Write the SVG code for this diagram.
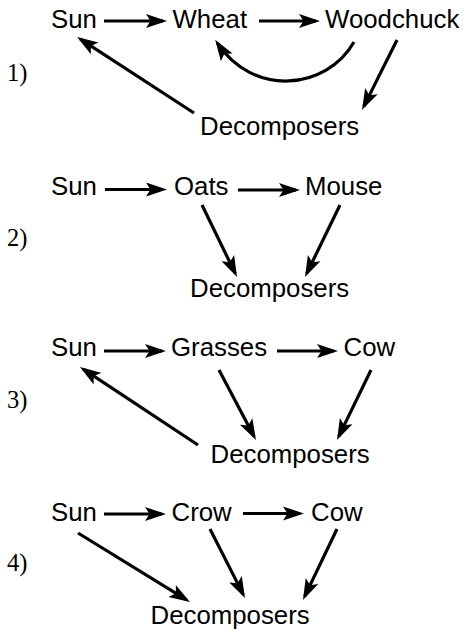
<svg xmlns="http://www.w3.org/2000/svg" width="467" height="632" viewBox="0 0 467 632">
<style>
.lbl{font-family:"Liberation Sans",Arial,Helvetica,sans-serif;font-size:25.8px;fill:#000}
.num{font-family:"Liberation Serif","Times New Roman",serif;font-size:24.5px;fill:#000}
.c{fill:none;stroke:#000;stroke-width:3.2}
</style>
<defs>
<marker id="ah" markerUnits="userSpaceOnUse" markerWidth="24" markerHeight="16" refX="17" refY="8" orient="auto">
<path d="M0,1 L21,8 L0,15 L4.5,8 z" fill="#000"/>
</marker>
</defs>
<rect width="467" height="632" fill="#fff"/>
<g id="panel1">
<text class="num" x="7" y="81">1)</text>
<g id="p1-sun"><text class="lbl" x="51" y="27.5">Sun</text></g>
<g id="p1-wheat"><text class="lbl" x="172.5" y="27.5">Wheat</text></g>
<g id="p1-woodchuck"><text class="lbl" x="325" y="27.5">Woodchuck</text></g>
<g id="p1-decomposers"><text class="lbl" x="200" y="135">Decomposers</text></g>
</g>
<g id="panel2">
<text class="num" x="7" y="246">2)</text>
<g id="p2-sun"><text class="lbl" x="51" y="195">Sun</text></g>
<g id="p2-oats"><text class="lbl" x="174" y="195">Oats</text></g>
<g id="p2-mouse"><text class="lbl" x="305" y="195">Mouse</text></g>
<g id="p2-decomposers"><text class="lbl" x="190" y="297">Decomposers</text></g>
</g>
<g id="panel3">
<text class="num" x="7" y="408">3)</text>
<g id="p3-sun"><text class="lbl" x="51" y="356">Sun</text></g>
<g id="p3-grasses"><text class="lbl" x="171" y="356">Grasses</text></g>
<g id="p3-cow"><text class="lbl" x="343.5" y="356">Cow</text></g>
<g id="p3-decomposers"><text class="lbl" x="210.5" y="463">Decomposers</text></g>
</g>
<g id="panel4">
<text class="num" x="7" y="571">4)</text>
<g id="p4-sun"><text class="lbl" x="51" y="520.5">Sun</text></g>
<g id="p4-crow"><text class="lbl" x="171.5" y="520.5">Crow</text></g>
<g id="p4-cow"><text class="lbl" x="311" y="520.5">Cow</text></g>
<g id="p4-decomposers"><text class="lbl" x="150.5" y="624">Decomposers</text></g>
</g>
<g id="connectors" class="c" marker-end="url(#ah)">
<path class="c" marker-end="url(#ah)" d="M104,21 H163"/>
<path class="c" marker-end="url(#ah)" d="M259,21 H316"/>
<path class="c" marker-end="url(#ah)" d="M354,42 C326.5,90 253.2,97.5 217.4,43.2"/>
<path class="c" marker-end="url(#ah)" d="M397,40 L363.8,106.4"/>
<path class="c" marker-end="url(#ah)" d="M194,113 L80.4,39.2"/>

<path class="c" marker-end="url(#ah)" d="M105,189.5 H163"/>
<path class="c" marker-end="url(#ah)" d="M238,190 H296"/>
<path class="c" marker-end="url(#ah)" d="M202,205 L235.25,273.4"/>
<path class="c" marker-end="url(#ah)" d="M340,205 L306.75,273.4"/>

<path class="c" marker-end="url(#ah)" d="M104,351 H162"/>
<path class="c" marker-end="url(#ah)" d="M277,351 H334"/>
<path class="c" marker-end="url(#ah)" d="M219,370 L254.1,436.5"/>
<path class="c" marker-end="url(#ah)" d="M371,370 L338.75,436.4"/>
<path class="c" marker-end="url(#ah)" d="M198,445 L83.3,369.2"/>

<path class="c" marker-end="url(#ah)" d="M104,514 H162"/>
<path class="c" marker-end="url(#ah)" d="M243,513.5 H300"/>
<path class="c" marker-end="url(#ah)" d="M78,533 L186.6,599.9"/>
<path class="c" marker-end="url(#ah)" d="M210,529 L243.2,594.4"/>
<path class="c" marker-end="url(#ah)" d="M337,529 L304.7,596.4"/>
</g>
</svg>
